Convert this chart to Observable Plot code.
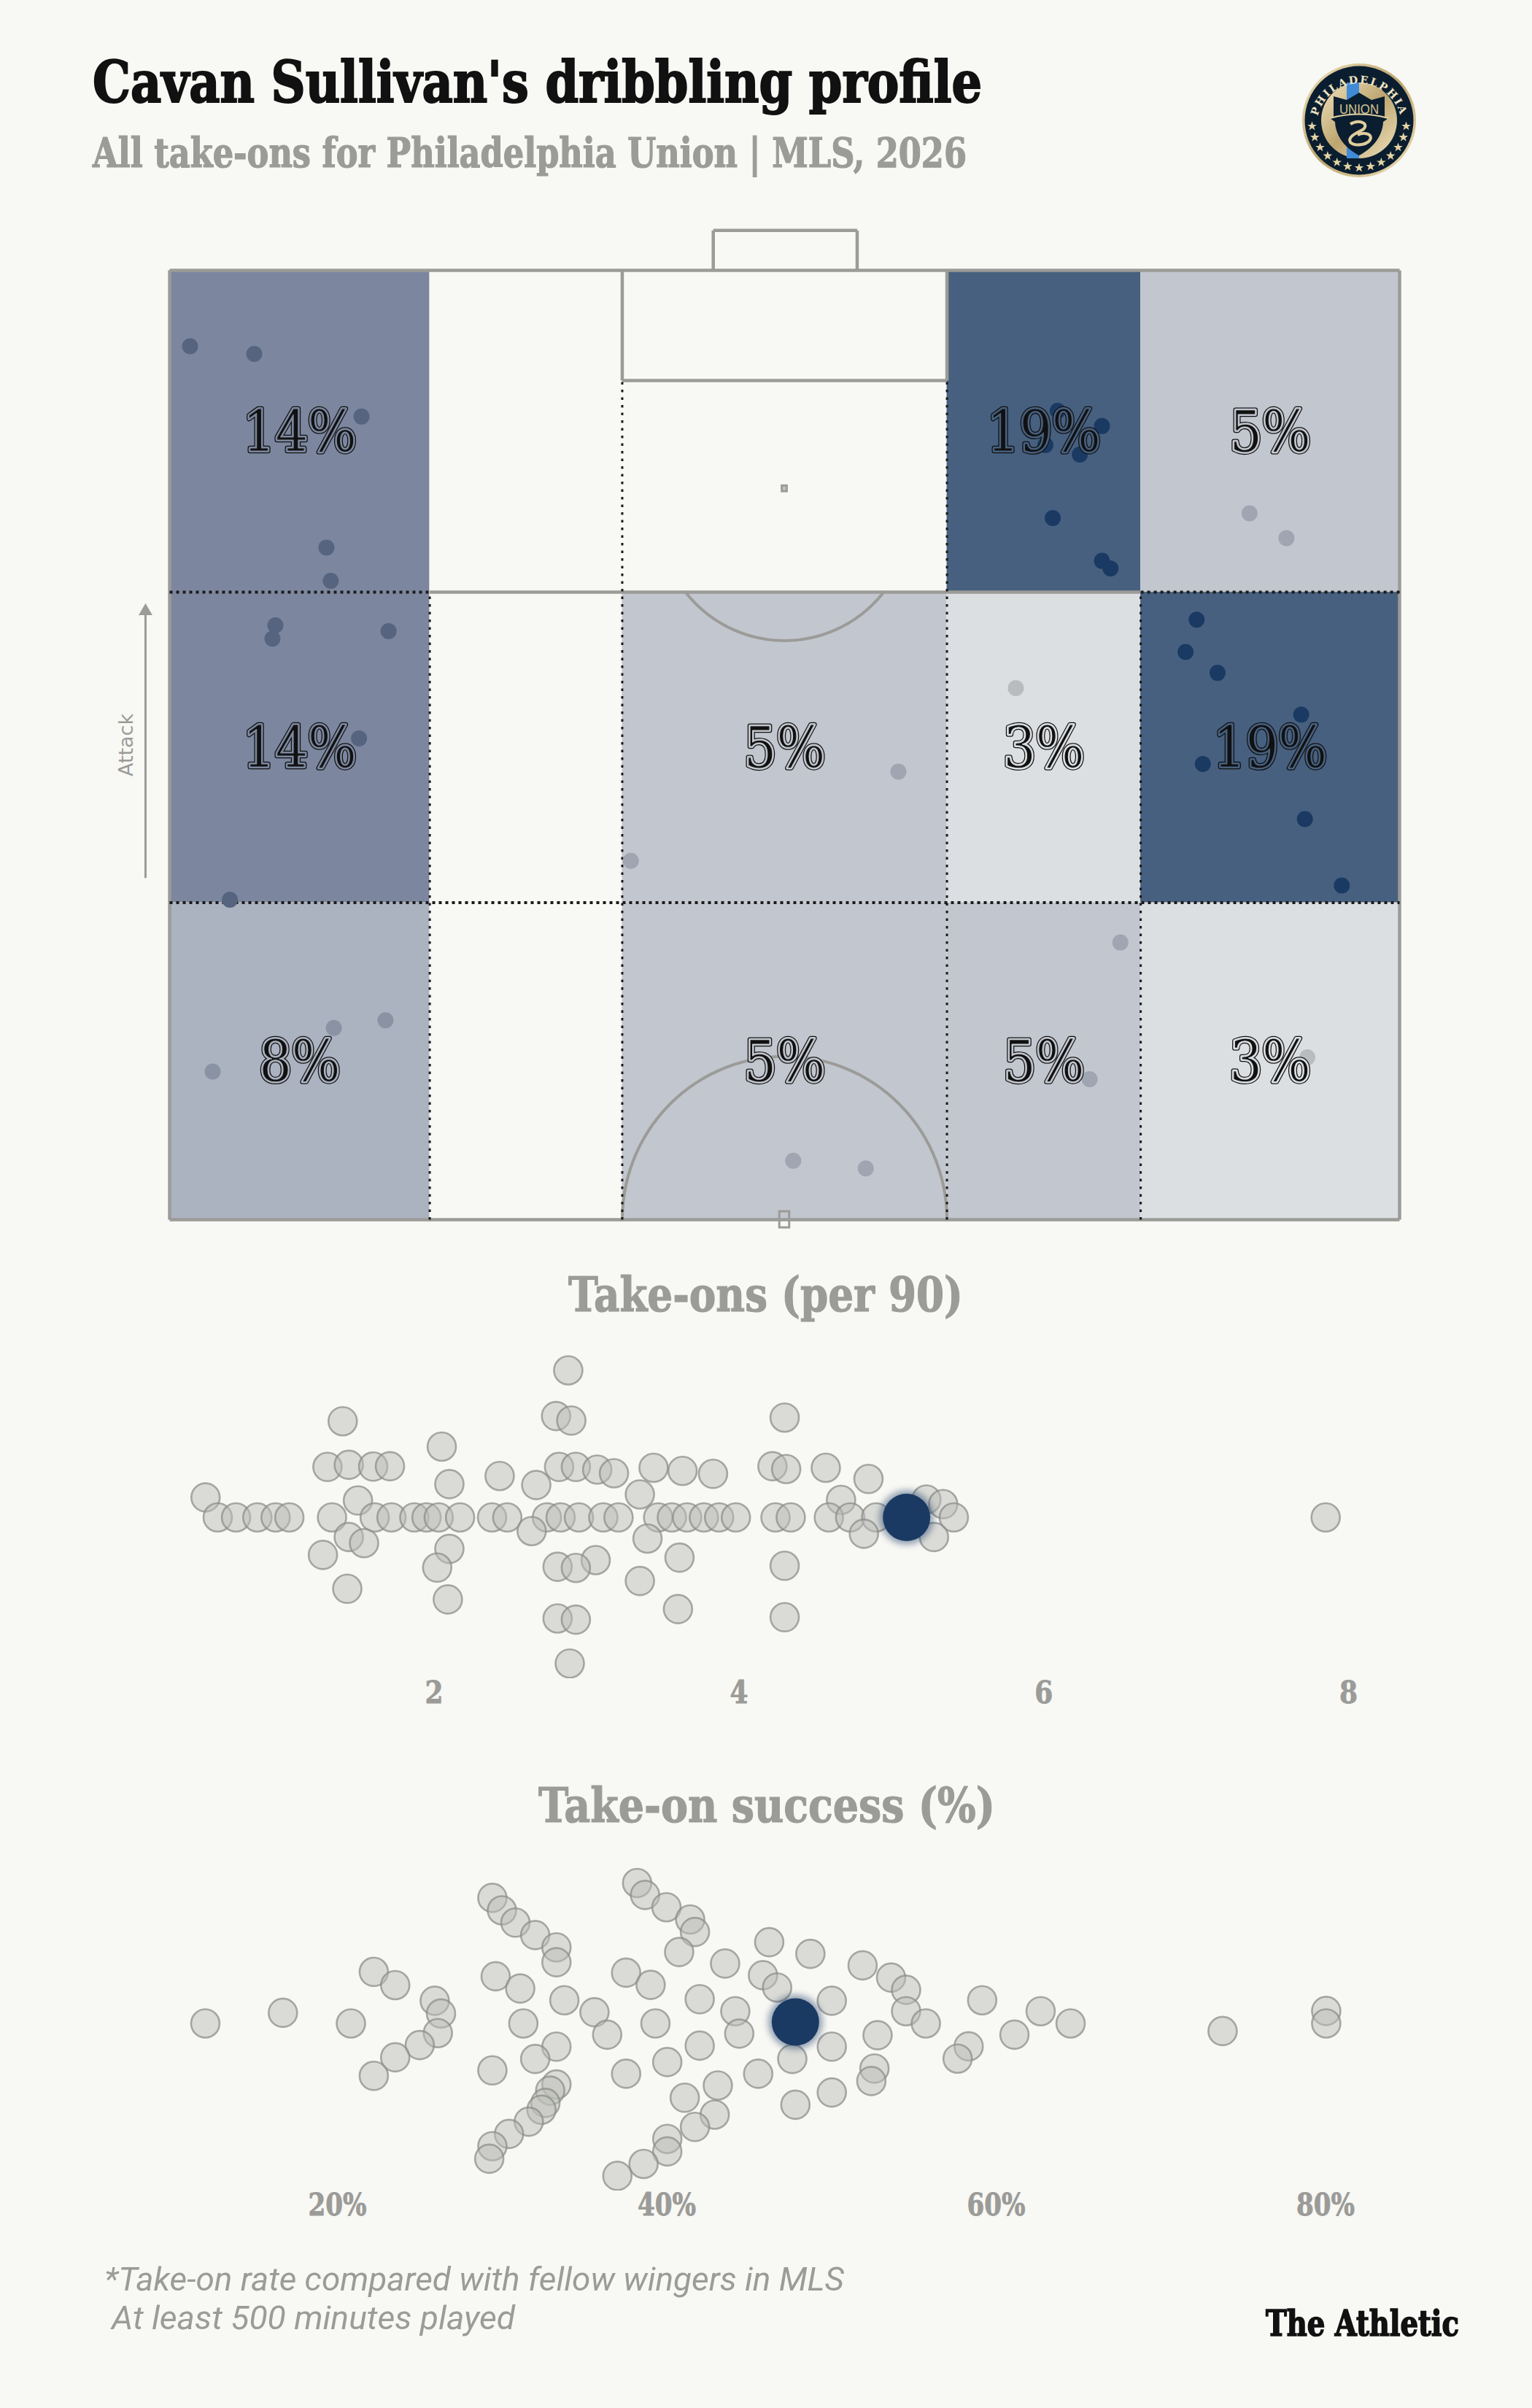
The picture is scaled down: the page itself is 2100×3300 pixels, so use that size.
<!DOCTYPE html>
<html><head><meta charset="utf-8">
<script src="https://cdn.jsdelivr.net/npm/d3@7"></script>
<script src="https://cdn.jsdelivr.net/npm/@observablehq/plot@0.6"></script>
<style>
html,body{margin:0;padding:0;background:#f8f8f4;}
#page{position:relative;width:2100px;height:3300px;overflow:hidden;background:#f8f8f4;}
#page>div.plot{position:absolute;left:0;}
#page svg{display:block;}
.t{position:absolute;white-space:pre;line-height:1;margin:0;font-weight:normal;transform-origin:0 0;}
.slab{font-family:"DejaVu Serif Condensed","DejaVu Serif",serif;font-weight:700;-webkit-text-stroke:1.2px currentColor;}
.sans{font-family:Roboto,"Liberation Sans",sans-serif;font-style:italic;}
</style></head>
<body><div id="page"></div>
<script>
// ---------- text ----------
const titleText = "Cavan Sullivan's dribbling profile";
const subtitleText = "All take-ons for Philadelphia Union | MLS, 2026";
const heading1 = "Take-ons (per 90)";
const heading2 = "Take-on success (%)";
const note1 = "*Take-on rate compared with fellow wingers in MLS";
const note2 = "At least 500 minutes played";
const brand = "The Athletic";

// ---------- pitch grid (pitch units 0-100) ----------
const colEdges = [0, 21.15, 36.8, 63.2, 78.95, 100];
const rowEdges = [0, 33.4, 66.1, 100];
const sharesBottom = [8, 0, 5, 5, 3];
const sharesMiddle = [14, 0, 5, 3, 19];
const sharesTop = [14, 0, 0, 19, 5];
const shareDomain = [0, 3, 5, 8, 14, 19];
const shareColors = ["#f8f8f4", "#dcdfe2", "#c2c6ce", "#abb2c0", "#7c879f", "#47607f"];
const dotColors = ["#f8f8f4", "#b8bcbf", "#9fa5b1", "#8a93a3", "#56647f", "#1a3a63"];

// ---------- take-on locations: x, y, share of the zone ----------
const spotX = [1.66,6.88,15.6,12.75,13.1,8.6,8.36,17.8,15.4,4.9,
  72.2,75.8,71.2,74.0,71.8,75.8,76.5,87.8,90.8,
  83.5,82.6,85.2,92.0,84.0,92.3,95.3,59.25,37.5,68.8,
  13.35,17.55,3.5,50.7,56.6,77.3,74.8,92.5];
const spotY = [92.0,91.2,84.6,70.8,67.3,62.6,61.2,62.0,50.7,33.7,
  85.2,83.6,81.6,80.6,73.9,69.4,68.6,74.4,71.8,
  63.2,59.8,57.6,53.2,48.0,42.2,35.2,47.2,37.8,56.0,
  20.2,21.0,15.6,6.2,5.4,29.2,14.8,17.1];
const spotShare = [14,14,14,14,14,14,14,14,14,14,
  19,19,19,19,19,19,19,5,5,
  19,19,19,19,19,19,19,5,5,3,
  8,8,8,5,5,5,5,3];

// ---------- take-ons per 90 swarm ----------
const per90 = [2.88,1.40,2.80,2.90,4.30,2.05,1.30,1.44,1.60,1.71,2.82,2.93,3.07,3.18,3.44,3.63,3.83,4.22,4.31,4.57,
  2.10,2.43,2.67,4.85,0.50,1.50,3.35,4.67,5.23,5.34,
  0.58,0.70,0.84,0.96,1.05,1.33,1.61,1.72,1.87,1.95,2.03,2.17,2.38,2.48,2.74,2.83,2.95,3.11,3.21,3.47,3.56,3.66,3.77,3.87,3.98,4.24,4.34,4.59,4.73,4.90,5.41,7.85,
  2.64,1.44,1.54,3.40,4.82,5.28,1.27,2.10,3.61,3.06,2.02,2.81,2.93,4.30,3.35,1.43,2.09,3.60,2.81,2.93,4.30,2.89];
const per90Jitter = [201.5,131.8,138.9,132.7,136.8,97,69.2,72.1,69.7,70.1,69.2,69.2,65.5,60.5,68,63.8,59.7,70.1,66.3,68,
  45.6,56.8,44.4,52.7,27.4,23.2,31.5,24,24.5,18.2,
  0,0,0,0,0,0,0,0,0,0,0,0,0,0,0,0,0,0,0,0,0,0,0,0,0,0,0,0,0,0,0,0,
  -18.7,-26.9,-35.2,-29,-22.4,-26.9,-51.4,-43.1,-55.1,-58.5,-68.8,-67.6,-69.2,-66.3,-87.1,-97.8,-112.4,-125.6,-138.5,-140.1,-136.8,-200.2];
const per90Player = 5.10;
const per90Ticks = [2, 4, 6, 8];

// ---------- take-on success swarm ----------
const success = [38.2,38.68,39.98,41.42,41.71,40.75,29.41,29.99,30.81,32.01,33.3,33.3,46.22,48.72,43.54,51.89,53.62,54.53,54.53,55.73,
  45.84,46.7,50.02,22.21,23.51,25.91,26.29,26.1,25,23.51,22.21,29.61,31.1,33.78,35.61,36.38,31.29,
  37.53,39.02,42,44.16,39.31,44.4,42,11.98,16.69,20.82,59.15,62.7,64.52,61.11,58.33,57.66,
  52.8,50.02,47.62,52.61,52.42,73.75,80.04,80.04,33.3,32.01,29.41,40.03,37.53,45.55,
  43.1,41.09,42.91,41.71,40.03,40.03,38.59,37,33.3,32.92,32.63,32.39,31.62,30.42,29.41,29.22,47.81,50.02];
const successJitter = [192.5,176.1,159.3,142.5,125.4,97.9,172.1,155,138.2,121.1,104.3,83.9,111.4,95.4,82.1,79.6,62.9,46.1,16.8,0,
  66.1,49.3,31.1,70.7,52.5,31.1,13.6,-13.2,-29.6,-46.4,-71.8,64.6,47.9,31.8,15.4,-15.4,0,
  69.6,52.9,33.2,16.8,0,-13.9,-30.4,0,14.6,0,31.8,16.8,0,-15.4,-31.4,-48.2,
  -16.1,-31.8,-48.6,-61.8,-78.9,-10.4,17.1,0,-31.8,-48.6,-64.3,-52.9,-68.9,-68.9,
  -85,-101.8,-125,-141.8,-158.2,-175.4,-192.5,-208.9,-83.6,-92.1,-108.9,-118.2,-134.6,-151.4,-168.2,-185.4,-111.4,-94.6];
const successPlayer = 47.81;
const successPlayerJitter = 2;
const successTicks = [20, 40, 60, 80];

// ---------- helpers ----------
const page = document.getElementById("page");
const GREY = "#9b9b98", NAVY = "#1a3a63", INK = "#111111";

function addText(tag, text, cls, color, size, left, baseline, width) {
  const el = document.createElement(tag);
  el.className = "t " + cls;
  el.textContent = text;
  el.style.fontSize = size + "px";
  el.style.color = color;
  el.style.top = (baseline - 0.846 * size) + "px";
  el.style.left = left + "px";
  page.appendChild(el);
  const w = el.getBoundingClientRect().width;
  el.style.transform = "scaleX(" + (width / w) + ")";
  return el;
}
function addPlot(top, plot) {
  const d = document.createElement("div");
  d.className = "plot";
  d.style.top = top + "px";
  d.appendChild(plot);
  page.appendChild(d);
}

addText("h1", titleText, "slab", INK, 78, 127, 140, 1219).style.webkitTextStroke = "2px #111111";
addText("h2", subtitleText, "slab", GREY, 56, 127, 228, 1198);
addText("h3", heading1, "slab", GREY, 66, 779, 1797, 541);
addText("h3", heading2, "slab", GREY, 66, 738, 2497, 626);
addText("p", note1, "sans", GREY, 44, 143, 3139, 1014);
addText("p", note2, "sans", GREY, 44, 153, 3192, 553);
addText("div", brand, "slab", INK, 48, 1735, 3201, 265).style.webkitTextStroke = "1.6px #111111";

// ---------- pitch ----------
const shareRows = [sharesBottom, sharesMiddle, sharesTop];
const zones = [];
shareRows.forEach((row, r) => row.forEach((share, c) => zones.push({
  share, x1: colEdges[c], x2: colEdges[c + 1], y1: rowEdges[r], y2: rowEdges[r + 1],
  cx: (colEdges[c] + colEdges[c + 1]) / 2, cy: (rowEdges[r] + rowEdges[r + 1]) / 2
})));
const labelled = zones.filter(z => z.share > 0);
const spots = spotX.map((x, i) => ({x, y: spotY[i], share: spotShare[i]}));

const arcSteps = d3.range(0, 61);
const lowerArc = arcSteps.map(i => ({
  x: 50 + 13.2 * Math.cos(Math.PI * i / 60),
  y: 17.2 * Math.sin(Math.PI * i / 60)}));
const upperStart = Math.asin((74.2 - 66.1) / 13.2);
const upperArc = arcSteps.map(i => {
  const a = upperStart + (Math.PI - 2 * upperStart) * i / 60;
  return {x: 50 + 10.2 * Math.cos(a), y: 74.2 - 13.2 * Math.sin(a)};
});

const solidLines = [
  {x1: 0, y1: 100, x2: 100, y2: 100},
  {x1: 0, y1: 0, x2: 100, y2: 0},
  {x1: 0, y1: 0, x2: 0, y2: 100},
  {x1: 100, y1: 0, x2: 100, y2: 100},
  {x1: colEdges[1], y1: rowEdges[2], x2: colEdges[4], y2: rowEdges[2]},
  {x1: colEdges[2], y1: 88.4, x2: colEdges[3], y2: 88.4},
  {x1: colEdges[2], y1: 88.4, x2: colEdges[2], y2: 100},
  {x1: colEdges[3], y1: 88.4, x2: colEdges[3], y2: 100},
  {x1: 44.2, y1: 100, x2: 44.2, y2: 104.2},
  {x1: 55.9, y1: 100, x2: 55.9, y2: 104.2},
  {x1: 44.2, y1: 104.2, x2: 55.9, y2: 104.2}
];
const dotsH = [
  {x1: 0, y1: rowEdges[2], x2: colEdges[1], y2: rowEdges[2]},
  {x1: colEdges[4], y1: rowEdges[2], x2: 100, y2: rowEdges[2]},
  {x1: 0, y1: rowEdges[1], x2: 100, y2: rowEdges[1]}
];
const dotsV = [
  {x1: colEdges[1], y1: 0, x2: colEdges[1], y2: rowEdges[2]},
  {x1: colEdges[4], y1: 0, x2: colEdges[4], y2: rowEdges[2]},
  {x1: colEdges[2], y1: 0, x2: colEdges[2], y2: 88.4},
  {x1: colEdges[3], y1: 0, x2: colEdges[3], y2: 88.4}
];
const spotMark = [{x1: 49.8, x2: 50.2, y1: 76.7, y2: 77.3}];
const goalMark = [{x1: 49.6, x2: 50.4, y1: -0.85, y2: 0.85}];
const pctFont = {fontFamily: '"DejaVu Serif Condensed","DejaVu Serif",serif', fontSize: 78, textAnchor: "middle", lineAnchor: "middle", dy: 3};
const pctText = d => d.share + "%";

addPlot(290, Plot.plot({
  width: 2100, height: 1420,
  marginLeft: 232, marginRight: 182, marginTop: 80, marginBottom: 39,
  style: {background: "transparent", overflow: "visible"},
  x: {domain: [0, 100], axis: null},
  y: {domain: [0, 100], axis: null},
  color: {type: "ordinal", domain: shareDomain, range: shareColors},
  marks: [
    Plot.rect(zones, {x1: "x1", x2: "x2", y1: "y1", y2: "y2", fill: "share"}),
    Plot.line(lowerArc, {x: "x", y: "y", stroke: GREY, strokeWidth: 4}),
    Plot.line(upperArc, {x: "x", y: "y", stroke: GREY, strokeWidth: 4}),
    Plot.link(solidLines, {x1: "x1", y1: "y1", x2: "x2", y2: "y2", stroke: GREY, strokeWidth: 4.5}),
    Plot.link(dotsV, {x1: "x1", y1: "y1", x2: "x2", y2: "y2", stroke: "#1b1b1b", strokeWidth: 3, strokeDasharray: "3.5 7"}),
    Plot.link(dotsH, {x1: "x1", y1: "y1", x2: "x2", y2: "y2", stroke: "#1b1b1b", strokeWidth: 4, strokeDasharray: "4 5"}),
    Plot.rect(spotMark, {x1: "x1", x2: "x2", y1: "y1", y2: "y2", fill: "#c5c5c2", stroke: GREY, strokeWidth: 3}),
    Plot.rect(goalMark, {x1: "x1", x2: "x2", y1: "y1", y2: "y2", fill: "none", stroke: GREY, strokeWidth: 3}),
    Plot.dot(spots, {x: "x", y: "y", r: 11, fill: d => dotColors[shareDomain.indexOf(d.share)], stroke: "none"}),
    Plot.text(labelled, {x: "cx", y: "cy", text: pctText, ...pctFont, fill: INK, stroke: INK, strokeWidth: 6.5}),
    Plot.text(labelled, {x: "cx", y: "cy", text: pctText, ...pctFont, fill: "share", stroke: "share", strokeWidth: 4}),
    Plot.text(labelled, {x: "cx", y: "cy", text: pctText, ...pctFont, fill: INK, stroke: "share", strokeWidth: 1.2, paintOrder: "fill"}),
    Plot.link([{x1: -1.96, x2: -1.96, y1: 36, y2: 64}], {x1: "x1", x2: "x2", y1: "y1", y2: "y2", stroke: GREY, strokeWidth: 3}),
    Plot.dot([{x: -1.96, y: 64.1}], {x: "x", y: "y", symbol: "triangle", r: 7, fill: GREY, stroke: "none"}),
    Plot.text(["Attack"], {x: () => -3.5, y: () => 50, text: d => d, rotate: -90, fill: GREY, fontSize: 27, fontFamily: '"DejaVu Sans",sans-serif', textAnchor: "middle"})
  ]
}));

// ---------- swarms ----------
function swarm(top, height, bottom, values, jitter, player, playerJitter, ticks, tickFmt, xDomain, xRange, yDomain, labelWidth) {
  const rows = values.map((v, i) => ({v, j: jitter[i]}));
  const me = [{v: player, j: playerJitter}];
  const plot = Plot.plot({
    width: 2100, height,
    marginLeft: 0, marginRight: 0, marginTop: 0, marginBottom: bottom,
    style: {background: "transparent"},
    x: {domain: xDomain, range: xRange},
    y: {domain: yDomain, axis: null},
    marks: [
      Plot.dot(rows, {x: "v", y: "j", r: 19.5, fill: "#bcbdb8", fillOpacity: 0.5, stroke: "#8a8a88", strokeOpacity: 0.72, strokeWidth: 2.6, clip: "frame"}),
      Plot.dot(me, {x: "v", y: "j", r: 37.5, fill: NAVY, fillOpacity: 0.45, stroke: "none", imageFilter: "blur(4px)"}),
      Plot.dot(me, {x: "v", y: "j", r: 32.5, fill: NAVY, stroke: "none"}),
      Plot.axisX({ticks, tickSize: 0, tickPadding: 4, tickFormat: tickFmt, label: null, fill: GREY,
        fontFamily: '"DejaVu Serif Condensed","DejaVu Serif",serif', fontWeight: 700, fontSize: 42})
    ]
  });
  d3.select(plot).selectAll('[aria-label="x-axis tick label"] text')
    .attr("stroke", GREY).attr("stroke-width", 0.8)
    .attr("textLength", labelWidth).attr("lengthAdjust", "spacingAndGlyphs");
  addPlot(top, plot);
}
swarm(1830, 515, 45, per90, per90Jitter, per90Player, 0, per90Ticks, d => String(d),
  [2, 8], [594.6, 1848], [-221, 249], 25);
swarm(2500, 550, 48, success, successJitter, successPlayer, successPlayerJitter, successTicks, d => d + "%",
  [20, 80], [462, 1816.5], [-229.5, 272.5], 80);

// ---------- club crest ----------
const starAngles = [7, 20.8, 34.6, 48.4, 62.2, 76, 90, 104, 117.8, 131.6, 145.4, 159.2, 173];
const stars = starAngles.map(a => {
  const r = a * Math.PI / 180;
  return '<polygon fill="#e5d3a3" transform="translate(' + (65 * Math.cos(r)) + ' ' + (65 * Math.sin(r)) + ')" points="0,-6.5 1.6,-2 6.3,-2 2.6,0.8 3.9,5.3 0,2.6 -3.9,5.3 -2.6,0.8 -6.3,-2 -1.6,-2"/>';
}).join("");
const crest = document.createElement("div");
crest.className = "plot";
crest.style.left = "1783px";
crest.style.top = "85px";
crest.innerHTML = `<svg width="160" height="160" viewBox="-80 -80 160 160" role="img" aria-label="Philadelphia Union crest">
<defs><linearGradient id="gold" x1="0" x2="1" y1="0" y2="1"><stop offset="0" stop-color="#f0e3bd"/><stop offset=".5" stop-color="#bda56f"/><stop offset="1" stop-color="#efe2bd"/></linearGradient>
<path id="ring" d="M -57 18 A 58 58 0 1 1 57 18"/></defs>
<circle r="78" fill="url(#gold)"/><circle r="74.5" fill="#0b1e30"/><circle r="52" fill="url(#gold)"/>
<rect x="-17" y="-52" width="17" height="104" fill="#3f8bd8"/>
<path d="M -35 -33 L -17 -28 L 0 -38 L 17 -28 L 35 -33 L 35 -5 L 40 -3 L 33 2 C 32 25 15 40 0 48 C -15 40 -32 25 -33 2 L -40 -3 L -35 -5 Z" fill="#0b1e30"/>
<text x="0" y="-9" text-anchor="middle" font-family="Liberation Sans,sans-serif" font-size="19" fill="#d8c48f" textLength="54" lengthAdjust="spacingAndGlyphs">UNION</text>
<path d="M -40 -3 Q 0 -14 40 -3" fill="none" stroke="#e5d3a3" stroke-width="2"/>
<path d="M -12 5 C 0 -2 14 4 6 12 C -4 18 -16 22 -12 30 C -6 36 14 34 16 24 C 16 18 6 16 -2 20" fill="none" stroke="#e0cd9c" stroke-width="4"/>
<text font-family="DejaVu Serif,serif" font-weight="700" font-size="14.5" fill="#efe3c2" letter-spacing="2.2"><textPath href="#ring" startOffset="50%" text-anchor="middle">PHILADELPHIA</textPath></text>
${stars}
</svg>`;
page.appendChild(crest);
</script></body></html>
